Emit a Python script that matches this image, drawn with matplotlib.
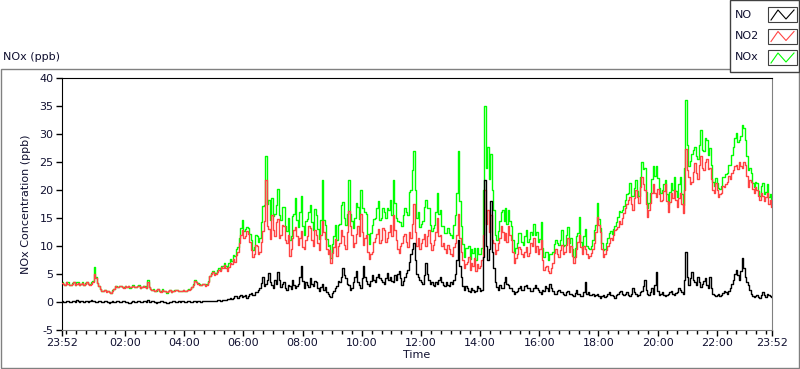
import matplotlib
matplotlib.use('Agg')
import matplotlib.pyplot as plt
import numpy as np
from matplotlib.patches import Rectangle
from matplotlib.lines import Line2D

# samples every 3 minutes, starting at 23:52 on the previous day
start_offset_h = -8 / 60
sample_minutes = np.arange(0, 1441, 3)

no2 = [
    3.4, 3.2, 3.0, 3.5, 3.3, 3.0, 3.1, 3.3, 3.5, 3.1, 3.2, 3.4, 3.0, 3.2, 3.4, 3.0, 3.2, 3.5, 3.3, 3.1,
    3.2, 3.6, 5.0, 4.2, 3.4, 2.8, 2.3, 2.0, 1.9, 2.1, 1.7, 1.9, 1.8, 1.6, 2.0, 2.4, 2.9, 2.7, 2.6, 2.9,
    2.8, 2.6, 2.5, 2.8, 2.7, 2.9, 2.6, 2.7, 2.9, 2.6, 2.7, 2.8, 2.8, 2.5, 2.6, 2.8, 2.7, 2.5, 3.6, 2.6,
    2.4, 2.1, 2.2, 2.0, 2.1, 2.3, 2.0, 1.8, 2.2, 2.0, 1.9, 1.7, 2.0, 2.1, 1.8, 1.9, 2.0, 2.2, 2.1, 1.9,
    2.0, 1.9, 2.1, 2.0, 1.9, 2.1, 2.2, 2.4, 2.6, 3.1, 3.8, 3.5, 3.3, 3.0, 3.0, 3.2, 3.2, 2.9, 3.1, 3.6,
    4.6, 5.0, 5.3, 4.9, 5.0, 5.4, 5.8, 5.5, 6.3, 6.0, 6.6, 6.1, 5.6, 6.3, 7.0, 6.8, 7.6, 7.2, 8.4, 9.0,
    10.5, 12.0, 12.8, 11.5, 11.8, 12.6, 12.2, 10.8, 9.3, 8.0, 8.6, 10.2, 10.0, 8.5, 9.0, 10.8, 12.6, 14.5, 21.8, 13.5,
    13.0, 11.2, 15.5, 12.8, 11.8, 14.2, 14.8, 11.5, 12.0, 13.8, 13.5, 11.0, 10.5, 12.0, 8.2, 9.5, 11.5, 12.8, 13.4, 11.8,
    10.2, 11.5, 12.6, 9.8, 9.4, 11.0, 11.8, 13.5, 13.2, 11.0, 10.0, 12.8, 12.0, 10.5, 9.2, 12.0, 14.5, 12.5, 11.2, 9.5,
    8.5, 9.2, 7.0, 8.8, 9.8, 11.2, 8.2, 10.0, 10.5, 12.8, 11.8, 10.2, 9.5, 12.5, 16.2, 13.5, 12.0, 9.8, 10.5, 12.2,
    13.5, 11.8, 15.8, 12.5, 10.2, 11.5, 12.0, 9.0, 7.6, 8.5, 9.0, 10.8, 11.5, 12.2, 13.0, 10.5, 11.0, 13.2, 12.8, 10.8,
    11.5, 12.5, 13.8, 11.8, 15.5, 12.8, 11.0, 9.5, 8.8, 10.0, 10.5, 11.8, 12.2, 10.8, 9.8, 12.5, 11.5, 14.0, 17.5, 12.5,
    10.0, 11.5, 9.5, 10.5, 11.2, 12.2, 10.0, 11.8, 12.8, 10.5, 9.2, 10.2, 11.0, 12.5, 15.0, 11.8, 12.0, 10.0, 10.5, 9.5,
    8.8, 10.2, 9.5, 8.5, 8.2, 9.8, 10.5, 12.0, 15.8, 11.5, 9.0, 7.5, 6.0, 6.8, 7.2, 8.0, 5.8, 7.0, 6.5, 7.8,
    5.5, 6.8, 6.0, 6.5, 7.5, 12.0, 20.0, 14.0, 16.4, 12.5, 15.5, 11.0, 10.5, 8.5, 9.3, 10.5, 11.5, 13.5, 12.5, 11.0,
    12.3, 10.8, 13.5, 12.0, 11.0, 9.0, 7.0, 7.8, 8.5, 9.8, 9.5, 8.5, 8.0, 9.0, 9.8, 8.2, 8.7, 10.5, 10.0, 11.5,
    9.0, 10.0, 8.5, 9.5, 11.0, 7.5, 5.8, 6.2, 6.5, 5.5, 5.2, 6.0, 7.0, 8.8, 9.5, 8.5, 8.0, 9.2, 10.2, 8.5,
    9.0, 10.2, 11.5, 9.0, 10.0, 8.2, 7.0, 8.0, 9.5, 10.8, 12.0, 9.8, 8.5, 10.0, 9.5, 8.5, 7.8, 8.2, 8.8, 9.5,
    10.5, 12.5, 15.2, 13.8, 12.5, 9.5, 8.1, 8.5, 9.3, 10.0, 10.5, 11.5, 11.0, 12.0, 12.8, 13.0, 13.4, 14.5, 14.0, 15.0,
    15.9, 16.8, 17.5, 18.2, 18.8, 17.5, 16.4, 18.5, 20.0, 18.8, 17.7, 20.5, 22.4, 21.0, 20.0, 17.5, 15.2, 16.5, 17.7, 19.5,
    21.0, 19.5, 18.8, 20.2, 19.2, 18.0, 18.2, 19.8, 21.0, 18.0, 16.0, 17.8, 19.5, 18.5, 20.0, 18.2, 17.0, 18.5, 19.5, 17.5,
    15.9, 20.0, 27.4, 23.5, 22.4, 21.0, 21.5, 23.2, 24.8, 23.0, 22.0, 24.5, 26.0, 24.0, 23.5, 25.0, 25.5, 23.8, 24.0, 22.0,
    20.0, 19.5, 21.2, 20.0, 18.8, 19.2, 19.5, 20.8, 20.6, 21.0, 21.5, 22.5, 22.0, 23.0, 23.6, 24.2, 24.5, 23.8, 25.0, 24.2,
    23.9, 25.0, 24.5, 22.5, 20.6, 21.8, 21.5, 20.2, 19.4, 20.5, 20.0, 19.0, 18.2, 19.5, 19.0, 18.0, 18.8, 19.5, 17.5, 18.2,
    17.0,
]

no = [
    0.1, 0.0, 0.0, 0.1, 0.2, 0.0, 0.0, 0.1, 0.1, 0.0, 0.3, 0.1, 0.0, 0.1, 0.1, 0.0, 0.2, 0.1, 0.0, 0.1,
    0.4, 0.1, 0.1, 0.0, 0.0, 0.1, 0.1, 0.0, 0.0, 0.1, 0.2, 0.0, -0.1, 0.0, 0.1, 0.0, 0.0, 0.1, 0.1, 0.0,
    0.0, 0.1, 0.1, 0.0, 0.0, -0.1, -0.1, 0.0, 0.1, 0.0, 0.0, 0.1, 0.2, 0.0, 0.0, 0.1, 0.1, 0.0, 0.3, 0.0,
    0.0, 0.1, 0.1, 0.0, -0.1, 0.0, 0.0, 0.1, 0.1, 0.0, 0.0, -0.1, -0.1, 0.0, 0.0, 0.1, 0.1, 0.0, 0.0, 0.1,
    0.0, 0.1, 0.1, 0.0, 0.0, 0.1, 0.1, 0.0, 0.0, 0.1, 0.2, 0.0, 0.1, 0.2, 0.0, 0.1, 0.1, 0.2, 0.2, 0.1,
    0.1, 0.2, 0.2, 0.1, 0.1, 0.3, 0.3, 0.2, 0.2, 0.4, 0.4, 0.3, 0.5, 0.6, 0.7, 0.5, 0.8, 1.0, 1.0, 0.8,
    1.0, 1.2, 0.9, 1.1, 1.2, 0.8, 1.0, 1.4, 1.6, 1.2, 1.3, 1.7, 1.8, 2.2, 2.5, 3.4, 4.5, 2.8, 3.2, 4.0,
    5.2, 3.5, 3.0, 2.5, 4.0, 3.2, 5.4, 4.0, 2.7, 3.2, 3.5, 2.5, 2.2, 3.0, 2.8, 2.3, 3.9, 3.0, 2.5, 2.9,
    3.2, 4.5, 6.4, 3.8, 2.5, 3.5, 3.0, 2.6, 4.2, 3.3, 2.8, 3.8, 3.6, 2.5, 2.0, 2.7, 3.3, 2.2, 2.6, 1.8,
    1.5, 1.0, 0.9, 1.6, 2.0, 2.5, 2.8, 3.8, 3.5, 4.5, 6.0, 4.8, 4.2, 3.2, 3.0, 2.2, 2.5, 3.5, 4.5, 5.5,
    3.5, 3.0, 2.5, 4.2, 6.5, 4.5, 3.8, 3.2, 2.8, 3.8, 4.8, 4.0, 3.5, 4.5, 5.0, 4.2, 4.0, 3.5, 3.2, 4.2,
    5.2, 4.0, 4.5, 3.8, 3.5, 4.8, 4.0, 5.0, 5.5, 4.2, 3.0, 3.8, 4.5, 5.2, 5.8, 7.2, 8.5, 9.5, 10.5, 7.5,
    5.0, 4.5, 3.9, 3.5, 3.2, 4.8, 7.0, 5.0, 4.0, 3.2, 3.5, 3.0, 2.8, 3.5, 3.3, 4.0, 4.5, 3.5, 3.0, 2.8,
    3.5, 3.0, 2.8, 3.5, 3.2, 4.0, 5.0, 7.5, 11.0, 6.5, 4.5, 2.8, 2.1, 2.8, 2.5, 2.0, 1.8, 2.5, 2.2, 1.8,
    2.0, 2.8, 2.5, 2.0, 2.2, 8.0, 21.8, 10.0, 7.5, 9.5, 18.0, 9.0, 6.0, 3.5, 2.7, 2.2, 3.0, 2.5, 2.5, 3.5,
    4.5, 3.2, 3.0, 2.5, 2.5, 2.0, 1.5, 1.8, 2.0, 2.5, 2.8, 2.2, 2.2, 2.8, 3.0, 2.5, 2.5, 2.0, 2.0, 2.5,
    3.0, 2.5, 2.2, 1.8, 1.5, 2.2, 2.0, 2.8, 2.5, 2.0, 3.3, 2.5, 2.0, 1.5, 1.5, 2.0, 2.2, 1.8, 1.8, 1.5,
    1.2, 1.8, 2.0, 1.5, 1.5, 1.2, 1.0, 1.6, 2.2, 1.5, 1.5, 1.0, 1.0, 1.8, 3.6, 1.5, 1.8, 1.2, 1.2, 1.5,
    1.0, 1.2, 1.5, 1.0, 0.8, 1.0, 1.2, 0.9, 1.0, 1.5, 1.8, 1.2, 1.2, 1.0, 0.8, 1.2, 1.5, 1.8, 2.0, 1.5,
    1.2, 1.5, 1.8, 1.2, 1.0, 1.5, 2.5, 1.8, 1.5, 1.0, 1.2, 1.8, 2.0, 2.8, 3.9, 2.2, 1.5, 1.2, 1.8, 2.5,
    1.5, 3.0, 5.4, 2.0, 1.2, 1.5, 1.8, 1.2, 1.0, 1.3, 1.5, 1.8, 2.0, 1.5, 1.2, 1.6, 1.8, 2.5, 2.2, 1.8,
    1.5, 4.0, 9.0, 4.5, 3.0, 4.2, 5.4, 4.0, 3.5, 3.0, 4.5, 3.5, 2.7, 3.2, 3.8, 4.2, 3.0, 2.5, 4.5, 2.5,
    1.5, 1.2, 1.0, 1.3, 1.5, 1.0, 1.2, 1.6, 2.0, 1.8, 1.5, 2.0, 2.5, 3.2, 4.0, 5.0, 5.7, 4.8, 4.0, 5.5,
    7.8, 6.0, 4.5, 3.5, 3.0, 2.2, 1.5, 1.0, 0.9, 1.0, 1.2, 0.9, 0.8, 1.2, 1.7, 1.2, 0.9, 1.5, 1.2, 1.0,
    0.9,
]

nox = [
    3.5, 3.2, 3.0, 3.6, 3.5, 3.0, 3.1, 3.4, 3.6, 3.1, 3.5, 3.5, 3.0, 3.3, 3.5, 3.0, 3.4, 3.6, 3.3, 3.2,
    3.6, 3.7, 6.2, 4.4, 3.4, 2.9, 2.4, 2.0, 1.9, 2.2, 1.9, 1.9, 1.7, 1.6, 2.1, 2.4, 2.9, 2.8, 2.7, 2.9,
    2.8, 2.7, 2.6, 2.8, 2.7, 2.8, 2.5, 2.7, 3.0, 2.6, 2.7, 2.9, 3.0, 2.5, 2.6, 2.9, 2.8, 2.5, 3.9, 2.6,
    2.4, 2.2, 2.3, 2.0, 2.0, 2.3, 2.0, 1.9, 2.3, 2.0, 1.9, 1.6, 1.9, 2.1, 1.8, 2.0, 2.1, 2.2, 2.1, 2.0,
    2.0, 2.0, 2.2, 2.0, 1.9, 2.2, 2.3, 2.4, 2.6, 3.2, 4.0, 3.5, 3.4, 3.2, 3.0, 3.3, 3.3, 3.1, 3.3, 3.7,
    4.7, 5.2, 5.5, 5.0, 5.1, 5.7, 6.1, 5.7, 6.5, 6.4, 7.0, 6.4, 6.1, 6.9, 7.7, 7.3, 8.4, 8.2, 9.4, 9.8,
    11.5, 13.2, 14.6, 12.6, 13.0, 13.4, 13.2, 12.2, 11.0, 9.2, 9.9, 11.9, 11.8, 10.7, 11.5, 14.2, 17.1, 17.3, 26.0, 17.5,
    18.2, 14.7, 18.5, 15.3, 15.8, 17.4, 20.2, 15.5, 14.7, 17.0, 17.0, 13.5, 12.7, 15.0, 11.0, 11.8, 15.4, 15.8, 18.6, 14.7,
    13.4, 16.0, 19.0, 13.6, 11.9, 14.5, 14.8, 16.1, 17.4, 14.3, 12.8, 16.6, 15.6, 13.0, 11.2, 14.7, 21.8, 14.7, 13.8, 11.3,
    10.0, 10.2, 7.9, 10.4, 11.8, 13.7, 11.0, 13.8, 14.0, 17.3, 17.8, 15.0, 13.7, 15.7, 21.8, 15.7, 14.5, 13.3, 15.0, 17.7,
    17.0, 14.8, 20.0, 16.7, 16.7, 16.0, 15.8, 12.2, 10.4, 12.3, 13.8, 14.8, 15.0, 16.7, 18.0, 14.7, 15.0, 16.7, 16.0, 15.0,
    16.7, 16.5, 18.3, 15.6, 21.8, 17.6, 15.0, 14.5, 14.3, 14.2, 13.5, 15.6, 16.7, 16.0, 15.6, 19.7, 20.0, 23.5, 27.0, 20.0,
    15.0, 16.0, 13.4, 14.0, 14.4, 17.0, 18.2, 16.8, 16.8, 13.7, 12.7, 13.2, 13.8, 16.0, 19.4, 15.8, 16.5, 13.5, 13.5, 12.3,
    12.3, 13.2, 12.3, 12.0, 11.4, 13.8, 15.5, 19.5, 27.0, 18.0, 13.5, 10.3, 8.1, 9.6, 9.7, 10.0, 7.6, 9.5, 8.7, 9.6,
    7.5, 9.6, 8.5, 8.5, 9.7, 20.0, 35.0, 24.0, 27.7, 22.0, 26.5, 20.0, 16.5, 12.0, 11.0, 12.7, 14.5, 16.0, 16.4, 14.5,
    16.8, 14.0, 16.5, 14.5, 13.5, 11.0, 8.7, 9.6, 10.5, 12.3, 12.3, 10.7, 10.2, 11.8, 12.8, 10.7, 11.2, 12.5, 12.0, 14.0,
    12.0, 12.5, 10.7, 11.3, 14.3, 9.7, 8.1, 9.0, 9.0, 7.5, 8.5, 8.5, 9.0, 10.3, 11.0, 10.5, 10.2, 11.0, 12.9, 10.0,
    10.2, 12.0, 13.4, 10.5, 11.5, 9.4, 8.0, 9.6, 11.7, 12.3, 15.2, 10.8, 9.5, 11.8, 13.1, 10.0, 9.6, 9.4, 10.0, 11.0,
    12.9, 13.7, 17.7, 14.8, 13.3, 10.5, 9.3, 9.4, 10.5, 11.5, 12.3, 12.7, 12.2, 13.0, 13.6, 14.2, 15.2, 16.3, 16.0, 16.5,
    17.1, 18.3, 19.3, 19.4, 21.2, 19.0, 18.9, 20.3, 21.8, 19.8, 18.9, 22.3, 25.0, 23.8, 23.9, 19.7, 16.7, 17.7, 19.5, 22.0,
    24.2, 22.5, 24.2, 22.2, 20.4, 19.5, 20.0, 21.0, 21.8, 19.3, 17.5, 19.6, 21.2, 20.0, 22.4, 19.8, 18.8, 21.0, 22.4, 19.3,
    17.4, 24.0, 36.1, 28.0, 24.2, 25.2, 26.5, 27.2, 27.7, 26.0, 25.5, 28.0, 30.7, 27.2, 27.0, 29.2, 28.9, 26.3, 27.5, 24.5,
    21.5, 20.7, 22.2, 21.3, 20.3, 20.2, 20.7, 22.4, 22.4, 22.8, 23.0, 24.5, 24.5, 26.2, 27.6, 29.2, 30.1, 28.6, 29.0, 29.7,
    31.6, 31.0, 29.0, 26.0, 23.6, 24.0, 23.0, 21.2, 20.6, 21.5, 21.2, 19.9, 19.0, 20.7, 21.2, 19.2, 19.7, 21.0, 18.7, 19.2,
    17.9,
]

tick_hours = [2, 4, 6, 8, 10, 12, 14, 16, 18, 20, 22]
tick_labels = ['02:00', '04:00', '06:00', '08:00', '10:00', '12:00',
               '14:00', '16:00', '18:00', '20:00', '22:00']
y_ticks = [-5, 0, 5, 10, 15, 20, 25, 30, 35, 40]

hours = start_offset_h + sample_minutes / 60
t_end = start_offset_h + 24

plt.rcParams['font.family'] = 'DejaVu Sans'
txt = '#101030'
green = '#00ff00'
red = '#ff4444'

fig = plt.figure(figsize=(8, 3.69), dpi=100)
ax = fig.add_axes([62 / 800, 1 - 330 / 369, 710 / 800, 252 / 369])

# LabVIEW draws the trace as pixel columns, so use steps
ax.plot(hours, nox, color=green, lw=1.0, drawstyle='steps-mid', zorder=2)
ax.plot(hours, no2, color=red, lw=1.0, drawstyle='steps-mid', zorder=3)
ax.plot(hours, no, color='black', lw=1.0, drawstyle='steps-mid', zorder=4)

ax.set_xlim(start_offset_h, t_end)
ax.set_ylim(-5, 40)
ax.set_yticks(y_ticks)
ax.set_yticklabels([str(v) for v in y_ticks], fontsize=8, color=txt)
ax.set_xticks([start_offset_h] + tick_hours + [t_end])
ax.set_xticklabels(['23:52'] + tick_labels + ['23:52'], fontsize=8, color=txt)
ax.set_xticks(np.arange(0, 24, 1 / 3), minor=True)
ax.tick_params(axis='both', which='major', length=4, width=1, pad=2)
ax.tick_params(axis='x', which='minor', length=3, width=1)

for side in ['top', 'left']:
    ax.spines[side].set_color('black')
for side in ['bottom', 'right']:
    ax.spines[side].set_color('#808080')

ax.set_xlabel('Time', fontsize=8, color=txt, labelpad=1)
ax.set_ylabel('NOx Concentration (ppb)', fontsize=8, color=txt, labelpad=6)

# outer panel frame and title
fig.add_artist(Rectangle((0.5 / 800, 1 / 369), 798.5 / 800, 299 / 369,
                         transform=fig.transFigure, fill=False,
                         edgecolor='#808080', lw=1))
fig.text(3 / 800, 1 - 57 / 369, 'NOx (ppb)', fontsize=8, color=txt,
         va='center', ha='left')

# legend box in the top right corner
fig.add_artist(Rectangle((730 / 800, 1 - 72 / 369), 69 / 800, 72 / 369,
                         transform=fig.transFigure, facecolor='white',
                         edgecolor='#404040', lw=1, zorder=5))
legend_names = ['NO', 'NO2', 'NOx']
legend_colors = ['black', red, green]
for i, (name, col) in enumerate(zip(legend_names, legend_colors)):
    top = 7 + i * 21.5
    fig.text(735 / 800, 1 - (top + 7.5) / 369, name, fontsize=8, color=txt,
             va='center', ha='left', zorder=6)
    fig.add_artist(Rectangle((768 / 800, 1 - (top + 15) / 369), 29 / 800, 15 / 369,
                             transform=fig.transFigure, facecolor='white',
                             edgecolor='#404040', lw=0.8, zorder=6))
    zx = np.array([771, 778, 786, 794]) / 800
    zy = 1 - (top + np.array([13, 3, 12, 3])) / 369
    fig.add_artist(Line2D(zx, zy, transform=fig.transFigure, color=col,
                          lw=0.8, zorder=7))

fig.savefig('out.png', dpi=100)
